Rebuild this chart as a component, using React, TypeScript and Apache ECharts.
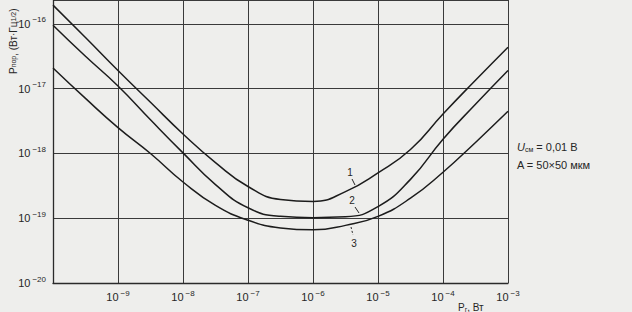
import React, { useEffect, useRef } from "react";
import * as echarts from "echarts";

// X: generator power P_г, W (half-decade steps)
const powerW = [1e-10, 3.16e-10, 1e-9, 3.16e-9, 1e-8, 3.16e-8, 1e-7, 3.16e-7, 1e-6, 3.16e-6, 1e-5, 3.16e-5, 1e-4, 3.16e-4, 1e-3];
// Threshold power, curves 1..3
const curve1 = [1.95e-16, 6.17e-17, 1.91e-17, 6.17e-18, 2.0e-18, 7.24e-19, 3.09e-19, 1.95e-19, 1.82e-19, 2.57e-19, 5.01e-19, 1.15e-18, 4.07e-18, 1.35e-17, 4.37e-17];
const curve2 = [9.55e-17, 3.16e-17, 1.1e-17, 3.31e-18, 1.02e-18, 3.31e-19, 1.45e-19, 1.07e-19, 1.02e-19, 1.05e-19, 1.51e-19, 3.98e-19, 1.66e-18, 5.75e-18, 1.91e-17];
const curve3 = [2.09e-17, 7.08e-18, 2.51e-18, 1.0e-18, 3.63e-19, 1.58e-19, 9.33e-20, 7.08e-20, 6.61e-20, 7.76e-20, 1.07e-19, 2.04e-19, 5.13e-19, 1.48e-18, 4.47e-18];
const curveNames = ["1", "2", "3"];

// tick labels (exponents of 10)
const xTickExponents = ["−9", "−8", "−7", "−6", "−5", "−4", "−3"];
const yTickExponents = ["−16", "−17", "−18", "−19", "−20"];

const FONT = "Liberation Sans";
const INK = "#262626";

function expLabel(v: number, list: string[]) {
  const e = Math.log10(v);
  const r = Math.round(e);
  if (Math.abs(e - r) > 1e-6) return "";
  const s = "−" + String(Math.abs(r));
  if (list.indexOf(s) < 0) return "";
  return "{b|10}{s|" + s + "}";
}

export default function App() {
  const ref = useRef<HTMLDivElement>(null);
  useEffect(() => {
    if (!ref.current) return;
    const chart = echarts.init(ref.current, null, { renderer: "svg" });
    const rich = {
      b: { fontSize: 11, fontFamily: FONT, color: INK },
      s: { fontSize: 8, fontFamily: FONT, color: INK, padding: [0, 0, 8, 2] },
    };
    const gridLine = { show: true, lineStyle: { color: "#3a3a3a", width: 1 } };
    const series = [curve1, curve2, curve3].map((c, k) => ({
      name: curveNames[k],
      type: "line",
      smooth: 0.5,
      symbol: "none",
      lineStyle: { color: "#1c1c1c", width: 1.5 },
      data: powerW.map((x, i) => [x, c[i]]),
    }));
    chart.setOption({
      animation: false,
      backgroundColor: "#eeeeec",
      grid: { left: 53, right: 124, top: -1, bottom: 29 },
      xAxis: {
        type: "log",
        logBase: 10,
        min: 1e-10,
        max: 1e-3,
        axisLine: { show: true, lineStyle: { color: "#2a2a2a", width: 1.3 } },
        axisTick: { show: false },
        splitLine: gridLine,
        axisLabel: {
          margin: 6,
          formatter: (v: number) => expLabel(v, xTickExponents),
          rich,
        },
      },
      yAxis: {
        type: "log",
        logBase: 10,
        min: 1e-20,
        max: 2.34e-16,
        axisLine: { show: true, lineStyle: { color: "#2a2a2a", width: 1.3 } },
        axisTick: { show: false },
        splitLine: gridLine,
        axisLabel: {
          margin: 7,
          formatter: (v: number) => {
            const l = expLabel(v, yTickExponents);
            return l.indexOf("20") >= 0 ? "{b|10}{s|−20}" : l;
          },
          rich,
        },
      },
      series,
      graphic: [
        {
          type: "text",
          x: 13,
          y: 74,
          rotation: Math.PI / 2,
          style: {
            text: "{m|P}{u|пор}{m|, (Вт·Гц}{u|1/2}{m|)}",
            textAlign: "left",
            textVerticalAlign: "middle",
            rich: {
              m: { fontSize: 10, fontFamily: FONT, fill: INK },
              u: { fontSize: 7, fontFamily: FONT, fill: INK },
            },
          },
        },
        {
          type: "text",
          x: 458,
          y: 307,
          style: {
            text: "{m|P}{u|г}{m|, Вт}",
            textVerticalAlign: "middle",
            rich: {
              m: { fontSize: 10, fontFamily: FONT, fill: INK },
              u: { fontSize: 7, fontFamily: FONT, fill: INK, padding: [4, 0, 0, 0] },
            },
          },
        },
        {
          type: "text",
          x: 517,
          y: 147,
          style: {
            text: "{i|U}{u|см}{m| = 0,01 В}",
            textVerticalAlign: "middle",
            rich: {
              i: { fontSize: 11, fontFamily: FONT, fontStyle: "italic", fill: INK },
              m: { fontSize: 11, fontFamily: FONT, fill: INK },
              u: { fontSize: 7, fontFamily: FONT, fill: INK, padding: [5, 0, 0, 0] },
            },
          },
        },
        {
          type: "text",
          x: 517,
          y: 165,
          style: { text: "A = 50×50 мкм", fontSize: 11, fontFamily: FONT, fill: INK, textVerticalAlign: "middle" },
        },
        { type: "text", x: 350, y: 172, style: { text: "1", fontSize: 10, fontFamily: FONT, fill: INK, textAlign: "center", textVerticalAlign: "middle" } },
        { type: "text", x: 352, y: 200, style: { text: "2", fontSize: 10, fontFamily: FONT, fill: INK, textAlign: "center", textVerticalAlign: "middle" } },
        { type: "text", x: 354, y: 243, style: { text: "3", fontSize: 10, fontFamily: FONT, fill: INK, textAlign: "center", textVerticalAlign: "middle" } },
        { type: "line", shape: { x1: 352, y1: 179, x2: 355, y2: 185 }, style: { stroke: INK, lineWidth: 1 } },
        { type: "line", shape: { x1: 355, y1: 207, x2: 359, y2: 213 }, style: { stroke: INK, lineWidth: 1 } },
        { type: "line", shape: { x1: 351, y1: 227, x2: 353, y2: 235 }, style: { stroke: INK, lineWidth: 1, lineDash: [2, 2] } },
      ],
    });
    return () => chart.dispose();
  }, []);
  return <div ref={ref} style={{ position: "fixed", left: 0, top: 0, width: 632, height: 312 }} />;
}
